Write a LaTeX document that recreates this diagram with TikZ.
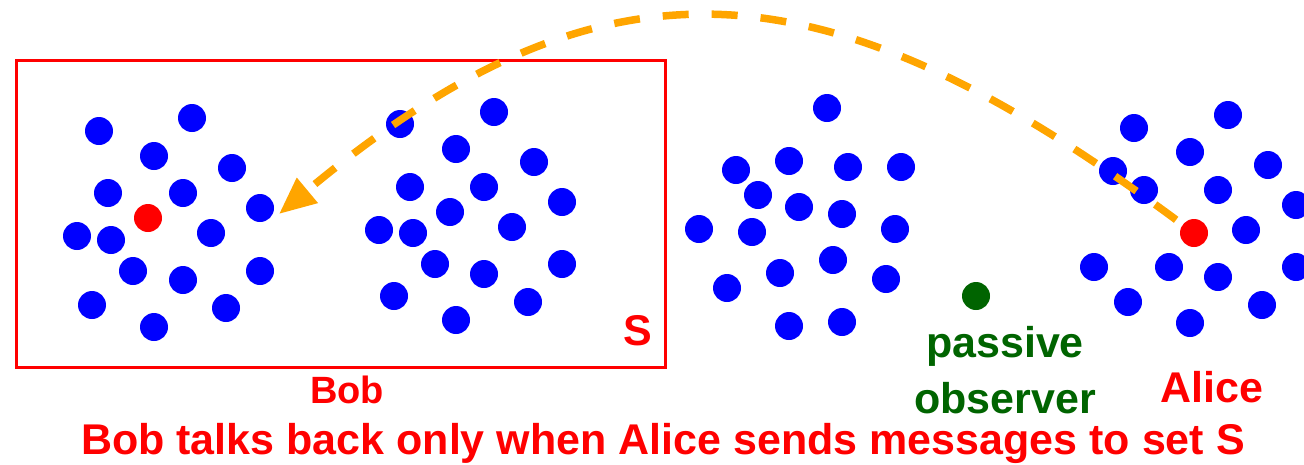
\documentclass[tikz,border=0pt]{standalone}
\usepackage{fontspec}
\setmainfont{Liberation Sans}
\usetikzlibrary{arrows.meta}
\definecolor{dotblue}{RGB}{0,0,255}
\definecolor{dotred}{RGB}{255,0,0}
\definecolor{obsgreen}{RGB}{0,100,0}
\definecolor{arcorange}{RGB}{255,165,0}
\tikzset{
  dot/.style={circle, fill=dotblue, minimum size=28pt, inner sep=0pt},
  reddot/.style={dot, fill=dotred},
  greendot/.style={dot, fill=obsgreen},
  setbox/.style={draw=dotred, line width=3pt},
  lbl/.style={anchor=base, inner sep=0pt, font=\bfseries\fontsize{43}{50}\selectfont},
  arc/.style={draw=arcorange, line width=7.5pt, dash pattern=on 26pt off 23pt,
              -{Triangle[length=37pt, width=31pt, fill=arcorange]}}
}
\begin{document}
\begin{tikzpicture}[x=1pt, y=-1pt]
\useasboundingbox (0,0) rectangle (1304,464);
% set S
\node[setbox, draw, minimum width=649pt, minimum height=307pt, anchor=north west, inner sep=0pt] (setS) at (14.7,59) {};
\node[lbl, text=dotred] (slabel) at (638,345) {S};
% cluster 1 (Bob's side, in S)
\foreach \x/\y [count=\i] in {99/131,192/118,154/156,232/168,108/193,183/193,260/208,77/236,111/240,211/233,133/271,183/280,260/271,92/305,226/308,154/327}
  \node[dot] (a\i) at (\x,\y) {};
\node[reddot] (bob) at (148,218) {};
% cluster 2 (in S)
\foreach \x/\y [count=\i] in {400/124,494/112,456/149,534/162,410/187,484/187,450/212,562/202,379/230,413/233,512/227,435/264,484/274,562/264,394/296,528/302,456/320}
  \node[dot] (b\i) at (\x,\y) {};
% cluster 3
\foreach \x/\y [count=\i] in {827/108,736/170,789/161,848/167,901/167,758/195,799/207,842/214,699/229,752/232,895/229,833/260,780/273,727/288,886/279,789/326,842/322}
  \node[dot] (c\i) at (\x,\y) {};
% cluster 4 (Alice's side)
\foreach \x/\y [count=\i] in {1134/128,1228/115,1190/152,1268/165,1113/171,1144/190,1218/190,1296/205,1246/230,1094/267,1169/267,1218/277,1296/267,1128/302,1262/305,1190/323}
  \node[dot] (d\i) at (\x,\y) {};
\node[reddot] (alice) at (1194,233) {};
% passive observer
\node[greendot] (observer) at (976,296) {};
% labels
\node[lbl, text=dotred, font=\bfseries\fontsize{38}{44}\selectfont] (boblabel) at (347,403) {Bob};
\node[lbl, text=obsgreen] (obslabel1) at (1005,357) {passive};
\node[lbl, text=obsgreen] (obslabel2) at (1005,413) {observer};
\node[lbl, text=dotred] (alicelabel) at (1212,402) {Alice};
\node[lbl, text=dotred] (caption) at (663,454.5) {Bob talks back only when Alice sends messages to set S};
% message arc
\coordinate (target) at (279,214);
\draw[arc, shorten <=8pt] (alice) .. controls (830,-36) and (610,-62) .. (target);
\end{tikzpicture}
\end{document}
